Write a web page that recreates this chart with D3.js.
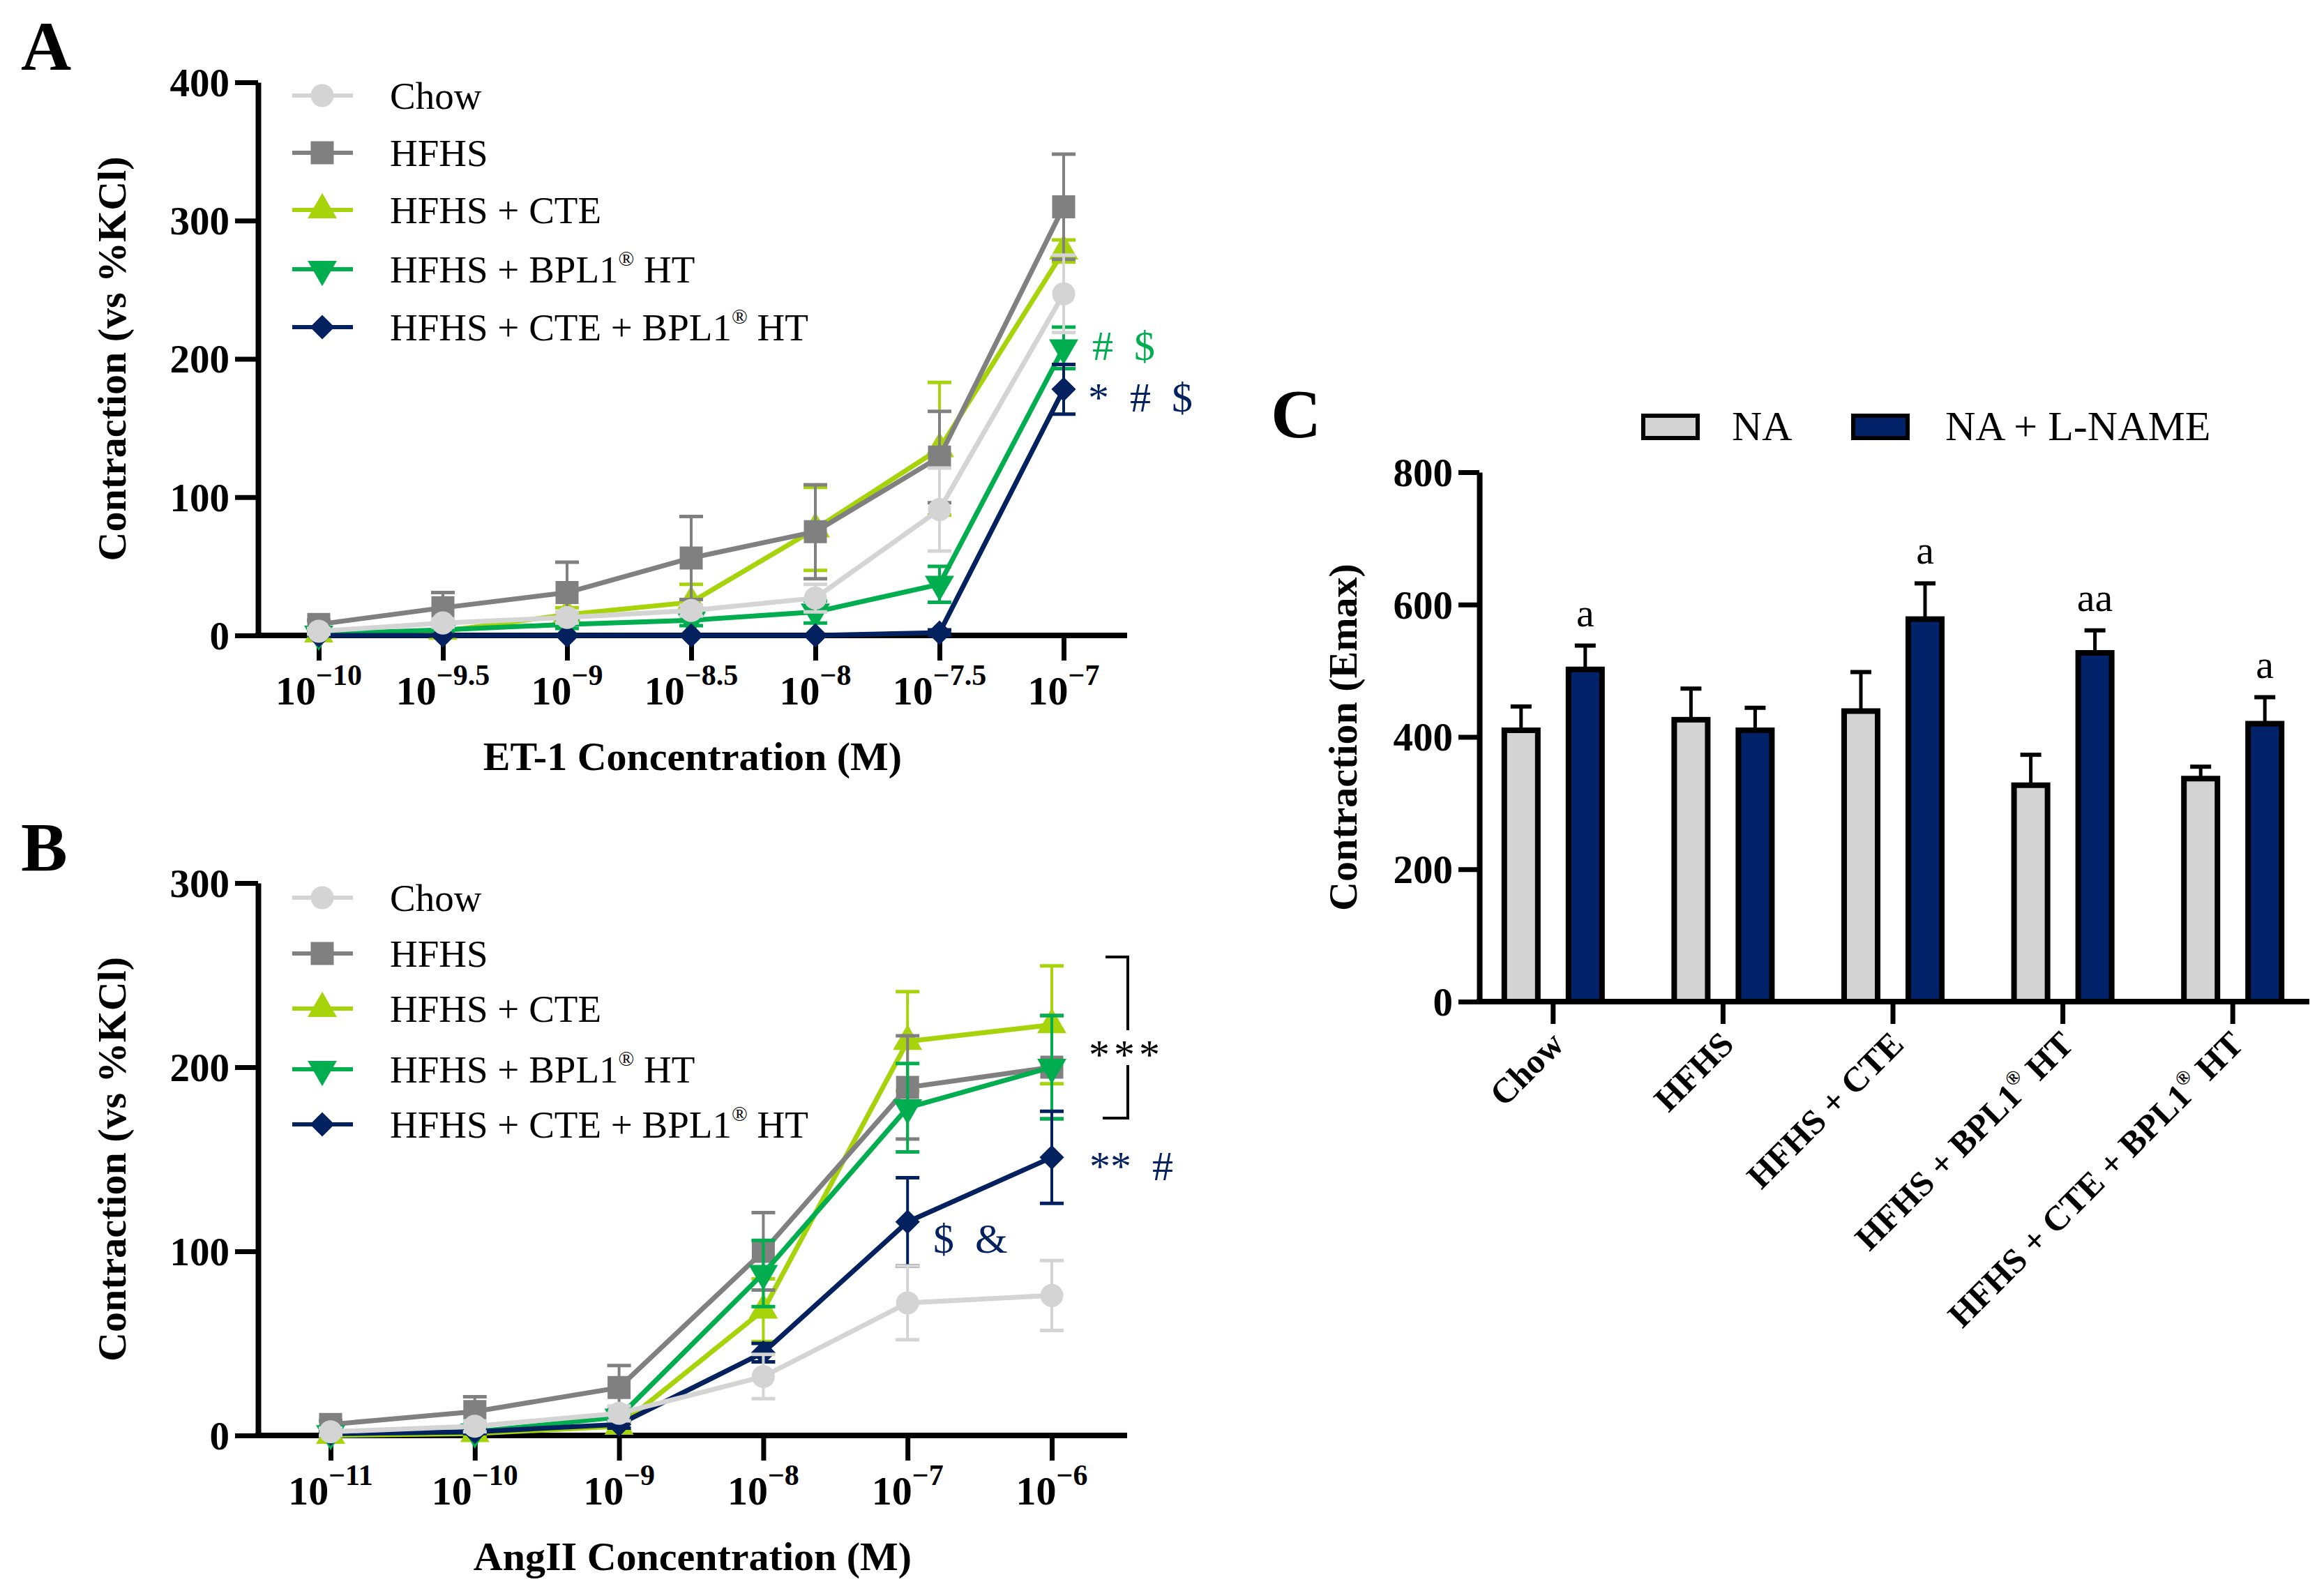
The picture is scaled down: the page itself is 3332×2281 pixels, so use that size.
<!DOCTYPE html>
<html>
<head>
<meta charset="utf-8">
<script src="https://cdn.jsdelivr.net/npm/d3@7"></script>
<style>
body { margin: 0; background: #fff; }
text { font-family: "Liberation Serif", "Times New Roman", serif; }
</style>
</head>
<body>
<script>
// group names (shared by all three panels)
var groupNames = ["Chow", "HFHS", "HFHS + CTE", "HFHS + BPL1® HT", "HFHS + CTE + BPL1® HT"];

// panel A: ET-1 dose response (log10 M)
var et1Doses = [-10, -9.5, -9, -8.5, -8, -7.5, -7];
var et1TickLabels = ["−10", "−9.5", "−9", "−8.5", "−8", "−7.5", "−7"];
var et1Chow = [3, 9, 13, 18, 27, 91, 247];
var et1Hfhs = [8, 20, 31, 56, 75, 129, 310];
var et1Cte = [1, 3, 15, 24, 77, 135, 278];
var et1Bpl = [1, 4, 8, 11, 17, 37, 208];
var et1CteBpl = [0, 0, 0, 0, 0, 2, 178];
var et1ChowErr = [2, 3, 4, 4, 10, 30, 28];
var et1HfhsErr = [3, 11, 22, 30, 34, 33, 38];
var et1CteErr = [1, 2, 5, 13, 30, 48, 8];
var et1BplErr = [1, 2, 3, 4, 8, 13, 15];
var et1CteBplErr = [0, 0, 0, 0, 0, 2, 18];
var et1YTicks = [0, 100, 200, 300, 400];

// panel B: AngII dose response (log10 M)
var angDoses = [-11, -10, -9, -8, -7, -6];
var angTickLabels = ["−11", "−10", "−9", "−8", "−7", "−6"];
var angChow = [2, 5, 12, 32, 72, 76];
var angHfhs = [6, 13, 26, 100, 189, 200];
var angCte = [0, 1, 5, 68, 214, 223];
var angBpl = [1, 2, 10, 88, 178, 200];
var angCteBpl = [1, 2, 6, 45, 116, 151];
var angChowErr = [2, 3, 4, 12, 20, 19];
var angHfhsErr = [2, 8, 12, 21, 28, 28];
var angCteErr = [1, 1, 2, 17, 27, 32];
var angBplErr = [1, 1, 2, 18, 24, 28];
var angCteBplErr = [1, 1, 2, 5, 24, 25];
var angYTicks = [0, 100, 200, 300];

// panel C: Emax to NA with / without L-NAME
var barKeys = ["NA", "NA + L-NAME"];
var naMean = [410, 426, 439, 327, 337];
var naErr = [36, 47, 59, 46, 18];
var nalMean = [502, 410, 578, 527, 420];
var nalErr = [36, 34, 54, 34, 40];
var nalLetters = ["a", "", "a", "aa", "a"];
var emaxYTicks = [0, 200, 400, 600, 800];

// styles
var lineColors = ["#d4d4d4", "#808080", "#a6d30a", "#00ad4f", "#03215f"];
var markerTypes = ["circle", "square", "triUp", "triDown", "diamond"];
var drawOrder = [2, 1, 3, 4, 0];
var barColors = ["#d3d3d3", "#02226a"];

var svg = d3.select("body").append("svg")
  .attr("width", 3332).attr("height", 2281);

var symbols = {
  circle: { path: d3.symbol().type(d3.symbolCircle).size(860)(), rot: 0 },
  square: { path: d3.symbol().type(d3.symbolSquare).size(1090)(), rot: 0 },
  triUp: { path: d3.symbol().type(d3.symbolTriangle).size(760)(), rot: 0 },
  triDown: { path: d3.symbol().type(d3.symbolTriangle).size(760)(), rot: 180 },
  diamond: { path: d3.symbol().type(d3.symbolSquare).size(620)(), rot: 45 }
};

function marker(g, type, cx, cy, color) {
  var s = symbols[type];
  g.append("path").attr("d", s.path).attr("fill", color)
    .attr("transform", "translate(" + cx + "," + cy + ") rotate(" + s.rot + ")");
}

function labelWithReg(t, label, supSize, supShift) {
  var parts = label.split("®");
  t.append("tspan").text(parts[0]);
  if (parts.length > 1) {
    t.append("tspan").attr("font-size", supSize).attr("dy", -supShift).text("®");
    t.append("tspan").attr("dy", supShift).text(parts[1]);
  }
}

function doseResponse(o) {
  var g = svg.append("g");
  var x = d3.scaleLinear().domain(d3.extent(o.doses)).range(o.xRange);
  var y = d3.scaleLinear().domain([0, d3.max(o.yTicks)]).range([o.y0, o.yTop]);

  // y axis
  var gy = g.append("g").attr("transform", "translate(" + o.axisX + ",0)")
    .call(d3.axisLeft(y).tickValues(o.yTicks).tickSize(33).tickPadding(8).tickSizeOuter(0));
  gy.attr("font-size", 57).attr("font-weight", "bold");
  gy.select(".domain").attr("stroke", "#000").attr("stroke-width", 8);
  gy.selectAll(".tick line").attr("stroke", "#000").attr("stroke-width", 7);
  gy.selectAll(".tick text").attr("fill", "#000").attr("dy", "0.34em");

  // x axis
  var gx = g.append("g").attr("transform", "translate(0," + o.y0 + ")")
    .call(d3.axisBottom(x).tickValues(o.doses).tickSize(36).tickFormat(""));
  gx.select(".domain").remove();
  gx.selectAll(".tick line").attr("stroke", "#000").attr("stroke-width", 7);
  g.append("line").attr("x1", o.axisX - 4).attr("x2", o.xEnd)
    .attr("y1", o.y0).attr("y2", o.y0).attr("stroke", "#000").attr("stroke-width", 8);

  o.doses.forEach(function (d, i) {
    var t = g.append("text").attr("x", x(d)).attr("y", o.y0 + 99)
      .attr("text-anchor", "middle").attr("font-weight", "bold").attr("font-size", 58);
    t.append("tspan").text("10");
    t.append("tspan").attr("font-size", 42).attr("dy", -28).text(o.tickLabels[i]);
  });

  // titles
  g.append("text").attr("x", (o.axisX + o.xEnd) / 2 - 0).attr("y", o.y0 + 193)
    .attr("text-anchor", "middle").attr("font-weight", "bold").attr("font-size", 58)
    .text(o.xTitle);
  g.append("text").attr("transform", "translate(180," + (o.y0 + o.yTop) / 2 + ") rotate(-90)")
    .attr("text-anchor", "middle").attr("font-weight", "bold").attr("font-size", 58)
    .text("Contraction (vs %KCl)");
  g.append("text").attr("x", 30).attr("y", o.yTop - 18).attr("font-weight", "bold")
    .attr("font-size", 100).text(o.panel);

  // series
  drawOrder.forEach(function (si) {
    var vals = o.series[si], errs = o.errors[si], col = lineColors[si];
    var sg = g.append("g");
    vals.forEach(function (v, i) {
      var e = errs[i];
      if (e <= 0) return;
      var cx = x(o.doses[i]);
      sg.append("line").attr("x1", cx).attr("x2", cx).attr("y1", y(v - e)).attr("y2", y(v + e))
        .attr("stroke", col).attr("stroke-width", 4);
      [v - e, v + e].forEach(function (b) {
        sg.append("line").attr("x1", cx - 17).attr("x2", cx + 17).attr("y1", y(b)).attr("y2", y(b))
          .attr("stroke", col).attr("stroke-width", 5);
      });
    });
    sg.append("path").datum(vals)
      .attr("d", d3.line().x(function (d, i) { return x(o.doses[i]); }).y(function (d) { return y(d); }))
      .attr("fill", "none").attr("stroke", col).attr("stroke-width", 7);
    vals.forEach(function (v, i) { marker(sg, markerTypes[si], x(o.doses[i]), y(v), col); });
  });

  // legend
  groupNames.forEach(function (name, i) {
    var ly = o.yTop + o.legendRows[i];
    g.append("line").attr("x1", 419).attr("x2", 506).attr("y1", ly).attr("y2", ly)
      .attr("stroke", lineColors[i]).attr("stroke-width", 6);
    marker(g, markerTypes[i], 462, ly, lineColors[i]);
    var t = g.append("text").attr("x", 559).attr("y", ly + 19).attr("font-size", 55);
    labelWithReg(t, name, 30, 24);
  });
  return { g: g, x: x, y: y };
}

// ---------- A ----------
var pa = doseResponse({
  panel: "A", doses: et1Doses, tickLabels: et1TickLabels,
  series: [et1Chow, et1Hfhs, et1Cte, et1Bpl, et1CteBpl],
  errors: [et1ChowErr, et1HfhsErr, et1CteErr, et1BplErr, et1CteBplErr],
  yTicks: et1YTicks, xRange: [457, 1525], xEnd: 1616, axisX: 370, y0: 911, yTop: 118,
  xTitle: "ET-1 Concentration (M)", legendRows: [19, 101, 183, 268, 351]
});
pa.g.append("text").attr("x", 1566).attr("y", 516).attr("font-size", 60).attr("fill", lineColors[3])
  .attr("xml:space", "preserve").text("#  $");
pa.g.append("text").attr("x", 1560).attr("y", 590).attr("font-size", 60).attr("fill", lineColors[4])
  .attr("xml:space", "preserve").text("*  #  $");

// ---------- B ----------
var pb = doseResponse({
  panel: "B", doses: angDoses, tickLabels: angTickLabels,
  series: [angChow, angHfhs, angCte, angBpl, angCteBpl],
  errors: [angChowErr, angHfhsErr, angCteErr, angBplErr, angCteBplErr],
  yTicks: angYTicks, xRange: [474, 1508], xEnd: 1616, axisX: 370, y0: 2058, yTop: 1266,
  xTitle: "AngII Concentration (M)", legendRows: [21, 101, 180, 267, 346]
});
pb.g.append("path")
  .attr("d", "M1585,1372H1617V1477M1617,1527V1603H1581")
  .attr("fill", "none").attr("stroke", "#000").attr("stroke-width", 4);
pb.g.append("text").attr("x", 1615).attr("y", 1532).attr("text-anchor", "middle")
  .attr("font-size", 60).attr("letter-spacing", 6).text("***");
pb.g.append("text").attr("x", 1562).attr("y", 1692).attr("font-size", 60).attr("fill", lineColors[4])
  .attr("xml:space", "preserve").text("**  #");
pb.g.append("text").attr("x", 1338).attr("y", 1796).attr("font-size", 60).attr("fill", lineColors[4])
  .attr("xml:space", "preserve").text("$  &");

// ---------- C ----------
var gc = svg.append("g");
var xC = d3.scaleBand().domain(groupNames).range([2105, 3323]);
var xSub = d3.scaleBand().domain(barKeys).range([-92, 92]).paddingInner(0.478).paddingOuter(0.239);
var yC = d3.scaleLinear().domain([0, 800]).range([1436, 677]);
var barData = [naMean, nalMean], barErr = [naErr, nalErr];

groupNames.forEach(function (cat, ci) {
  var cx = xC(cat) + xC.bandwidth() / 2;
  barKeys.forEach(function (k, ki) {
    var v = barData[ki][ci], e = barErr[ki][ci];
    var bx = cx + xSub(k);
    var mid = bx + xSub.bandwidth() / 2;
    gc.append("line").attr("x1", mid).attr("x2", mid).attr("y1", yC(v)).attr("y2", yC(v + e))
      .attr("stroke", "#000").attr("stroke-width", 5);
    gc.append("line").attr("x1", mid - 15).attr("x2", mid + 15).attr("y1", yC(v + e)).attr("y2", yC(v + e))
      .attr("stroke", "#000").attr("stroke-width", 6);
    gc.append("rect").attr("x", bx).attr("width", xSub.bandwidth())
      .attr("y", yC(v)).attr("height", yC(0) - yC(v))
      .attr("fill", barColors[ki]).attr("stroke", "#000").attr("stroke-width", 8);
    if (ki === 1 && nalLetters[ci]) {
      gc.append("text").attr("x", mid).attr("y", yC(v + e) - 28).attr("text-anchor", "middle")
        .attr("font-size", 58).text(nalLetters[ci]);
    }
  });
});

var gcy = gc.append("g").attr("transform", "translate(2121,0)")
  .call(d3.axisLeft(yC).tickValues(emaxYTicks).tickSize(30).tickPadding(8).tickSizeOuter(0));
gcy.attr("font-size", 57).attr("font-weight", "bold");
gcy.select(".domain").attr("stroke", "#000").attr("stroke-width", 8);
gcy.selectAll(".tick line").attr("stroke", "#000").attr("stroke-width", 7);
gcy.selectAll(".tick text").attr("fill", "#000").attr("dy", "0.34em");

var gcx = gc.append("g").attr("transform", "translate(0,1436)")
  .call(d3.axisBottom(xC).tickSize(32).tickFormat(""));
gcx.select(".domain").remove();
gcx.selectAll(".tick line").attr("stroke", "#000").attr("stroke-width", 7);
gc.append("line").attr("x1", 2117).attr("x2", 3311).attr("y1", 1436).attr("y2", 1436)
  .attr("stroke", "#000").attr("stroke-width", 8);

groupNames.forEach(function (cat) {
  var cx = xC(cat) + xC.bandwidth() / 2;
  var t = gc.append("text")
    .attr("transform", "translate(" + (cx + 18) + ",1500) rotate(-45)")
    .attr("text-anchor", "end").attr("font-weight", "bold").attr("font-size", 50);
  labelWithReg(t, cat, 28, 22);
});

gc.append("text").attr("transform", "translate(1945,1057) rotate(-90)")
  .attr("text-anchor", "middle").attr("font-weight", "bold").attr("font-size", 58)
  .text("Contraction (Emax)");
gc.append("text").attr("x", 1822).attr("y", 627).attr("font-weight", "bold")
  .attr("font-size", 100).text("C");

// legend C
var legX = [2356, 2657], legTextX = [2483, 2789];
barKeys.forEach(function (k, i) {
  gc.append("rect").attr("x", legX[i]).attr("y", 596).attr("width", 78).attr("height", 32)
    .attr("fill", barColors[i]).attr("stroke", "#000").attr("stroke-width", 6);
  gc.append("text").attr("x", legTextX[i]).attr("y", 631).attr("font-size", 60).text(k);
});
</script>
</body>
</html>
